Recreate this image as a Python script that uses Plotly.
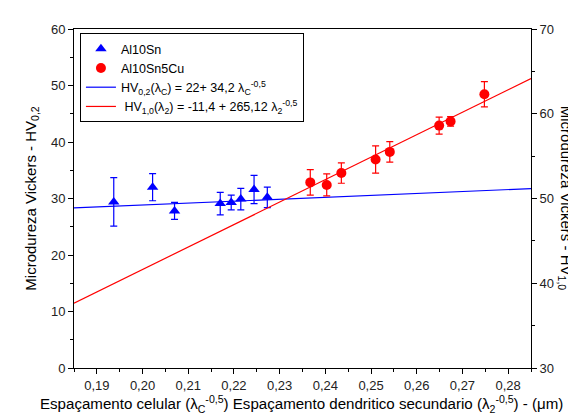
import plotly.graph_objects as go

# Al10Sn (left axis, HV0,2) - cellular spacing
x_sn = [0.1937, 0.2022, 0.2070, 0.2170, 0.2194, 0.2215, 0.2244, 0.2273]
hv_sn = [29.4, 32.0, 27.8, 29.1, 29.3, 29.9, 31.6, 30.2]
err_sn = [4.3, 2.4, 1.5, 2.0, 1.3, 1.9, 2.5, 1.8]

# Al10Sn5Cu (right axis, HV1,0) - secondary dendritic spacing
x_cu = [0.2367, 0.2403, 0.2435, 0.2510, 0.2541, 0.2649, 0.2674, 0.2748]
hv_cu = [51.9, 51.6, 53.0, 54.6, 55.5, 58.6, 59.1, 62.3]
err_cu = [1.5, 1.3, 1.2, 1.6, 1.2, 1.0, 0.55, 1.5]

# fitted lines (coefficients from the legend)
x_fit = [0.185, 0.285]
blue_a, blue_b = 22.0, 34.2
red_a, red_b = -11.4, 265.12
y_blue = [blue_a + blue_b * v for v in x_fit]
y_red = [red_a + red_b * v for v in x_fit]

x_ticks = [0.19, 0.20, 0.21, 0.22, 0.23, 0.24, 0.25, 0.26, 0.27, 0.28]

FONT = "Arial, Liberation Sans, sans-serif"
BLUE = "#0000ff"
RED = "#ff0000"

fig = go.Figure()

fig.add_trace(go.Scatter(
    x=x_sn, y=hv_sn, mode="markers", name="Al10Sn",
    marker=dict(symbol="triangle-up", size=10, color=BLUE),
    error_y=dict(type="data", array=err_sn, color=BLUE, thickness=1.2, width=3.5),
    yaxis="y",
))
fig.add_trace(go.Scatter(
    x=x_cu, y=hv_cu, mode="markers", name="Al10Sn5Cu",
    marker=dict(symbol="circle", size=10, color=RED),
    error_y=dict(type="data", array=err_cu, color=RED, thickness=1.2, width=3.5),
    yaxis="y2",
))
fig.add_trace(go.Scatter(
    x=x_fit, y=y_blue, mode="lines",
    name="HV<sub>0,2</sub>(λ<sub>C</sub>) = 22+ 34,2 λ<sub>C</sub><sup>-0,5</sup>",
    line=dict(color=BLUE, width=1.2), yaxis="y",
))
fig.add_trace(go.Scatter(
    x=x_fit, y=y_red, mode="lines",
    name=" HV<sub>1,0</sub>(λ<sub>2</sub>) = -11,4 + 265,12 λ<sub>2</sub><sup>-0,5</sup>",
    line=dict(color=RED, width=1.2), yaxis="y2",
))

axis_common = dict(
    showline=True, linecolor="black", linewidth=1,
    ticks="outside", ticklen=5, tickcolor="black", tickwidth=1,
    showgrid=False, zeroline=False,
    tickfont=dict(family=FONT, size=13, color="#222"),
)

fig.update_layout(
    width=576, height=415,
    margin=dict(l=66, r=53, t=21, b=55),
    paper_bgcolor="white", plot_bgcolor="white",
    separators=",.",
    font=dict(family=FONT, color="black"),
    showlegend=True,
    legend=dict(
        x=0.013, y=0.988, xanchor="left", yanchor="top",
        bgcolor="white", bordercolor="black", borderwidth=1,
        font=dict(family=FONT, size=12.5, color="black"),
        tracegroupgap=0, itemwidth=30,
    ),
    xaxis=dict(
        range=[0.185, 0.285], tickvals=x_ticks, tickformat=".2f",
        mirror=True,
        minor=dict(dtick=0.005, tick0=0.185, ticks="outside", ticklen=3,
                   tickcolor="black"),
        **axis_common,
    ),
    yaxis=dict(
        range=[0, 60], dtick=10, tick0=0,
        minor=dict(dtick=5, ticks="outside", ticklen=3, tickcolor="black"),
        title=dict(text="Microdureza Vickers - HV<sub>0,2</sub>",
                   font=dict(family=FONT, size=15, color="black"), standoff=10),
        **axis_common,
    ),
    yaxis2=dict(
        range=[30, 70], dtick=10, tick0=30, overlaying="y", side="right",
        minor=dict(dtick=5, ticks="outside", ticklen=3, tickcolor="black"),
        **axis_common,
    ),
    annotations=[
        dict(
            text="Microdureza Vickers - HV<sub>1,0</sub>",
            x=1.076, y=0.5, xref="paper", yref="paper", textangle=90,
            showarrow=False, xanchor="center", yanchor="middle",
            font=dict(family=FONT, size=15, color="black"),
        ),
        dict(
            text="Espaçamento celular (λ<sub>C</sub><sup>-0,5</sup>) Espaçamento dendritico secundario (λ<sub>2</sub><sup>-0,5</sup>) - (μm)",
            x=0.497, y=-0.106, xref="paper", yref="paper",
            showarrow=False, xanchor="center", yanchor="middle",
            font=dict(family=FONT, size=15.1, color="black"),
        ),
    ],
)

fig.write_html("out.html")
